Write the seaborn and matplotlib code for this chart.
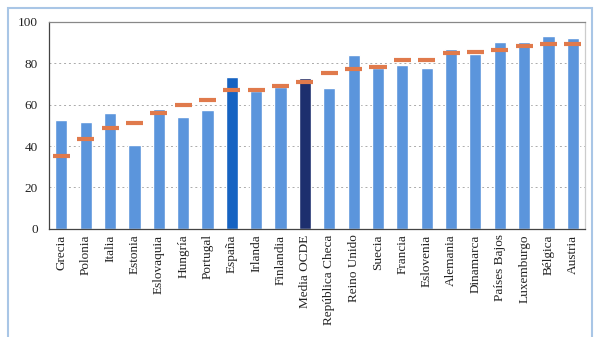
import matplotlib
matplotlib.use("Agg")
import matplotlib.pyplot as plt
import seaborn as sns
import pandas as pd
from matplotlib.patches import Rectangle

paises = ["Grecia", "Polonia", "Italia", "Estonia", "Eslovaquia", "Hungría", "Portugal",
          "España", "Irlanda", "Finlandia", "Media OCDE", "República Checa", "Reino Unido",
          "Suecia", "Francia", "Eslovenia", "Alemania", "Dinamarca", "Países Bajos",
          "Luxemburgo", "Bélgica", "Austria"]
barras = [52.5, 51.5, 55.8, 40.3, 58.0, 54.2, 57.4, 73.3, 66.5, 68.3, 72.7, 67.9, 84.2,
          77.5, 79.2, 77.9, 86.8, 84.6, 90.2, 90.1, 93.4, 92.1]
marcas = [35.0, 43.5, 48.5, 51.1, 56.1, 60.0, 62.2, 67.2, 67.2, 69.1, 71.0, 75.3, 77.1,
          78.4, 81.5, 81.5, 85.2, 85.3, 86.5, 88.5, 89.5, 89.2]

sns.set_style("white")
plt.rcParams['font.family'] = ['Liberation Serif', 'DejaVu Serif']

df = pd.DataFrame({"pais": paises, "valor": barras, "marca": marcas})
base = "#5b95dc"
palette = {p: base for p in paises}
palette["España"] = "#1663c2"
palette["Media OCDE"] = "#1d2f6e"

fig = plt.figure(figsize=(6, 3.37), dpi=100)
ax = fig.add_axes([0.082, 0.321, 0.893, 0.614])

sns.barplot(data=df, x="pais", y="valor", hue="pais", palette=palette, dodge=False,
            legend=False, width=0.5, saturation=1, ax=ax)

xs = range(len(paises))
ax.hlines(marcas, [i - 0.35 for i in xs], [i + 0.35 for i in xs],
          colors="#e07a4c", linewidth=3.0, zorder=5)

ax.set_xlim(-0.5, len(paises) - 0.5)
ax.set_ylim(0, 100)
ax.set_yticks([0, 20, 40, 60, 80, 100])
ax.set_xlabel("")
ax.set_ylabel("")
ax.set_xticks(list(xs))
ax.set_xticklabels(paises, rotation=90, fontsize=9.5, color="#222222")
ax.set_xticks([i + 0.5 for i in range(-1, len(paises))], minor=True)
ax.tick_params(axis="x", which="major", length=0, pad=4)
ax.tick_params(axis="x", which="minor", length=5, color="#555555", width=0.8)
ax.tick_params(axis="y", length=6, color="#999999", width=0.7, labelsize=9.5,
               labelcolor="#222222", pad=2)
for y in [20, 40, 60, 80]:
    ax.axhline(y, color="#aaaaaa", linestyle=(0, (2, 3)), linewidth=0.7, zorder=0)
ax.set_axisbelow(True)

ax.spines["left"].set_color("#444444")
ax.spines["bottom"].set_color("#444444")
ax.spines["top"].set_color("#888888")
ax.spines["right"].set_color("#cccccc")
for s in ax.spines.values():
    s.set_linewidth(0.9)

fig.patches.append(Rectangle((0.014, -0.05), 0.972, 1.026, transform=fig.transFigure,
                             fill=False, edgecolor="#a9c6e6", linewidth=1.5, zorder=-1))

fig.savefig("out.png", dpi=100)
